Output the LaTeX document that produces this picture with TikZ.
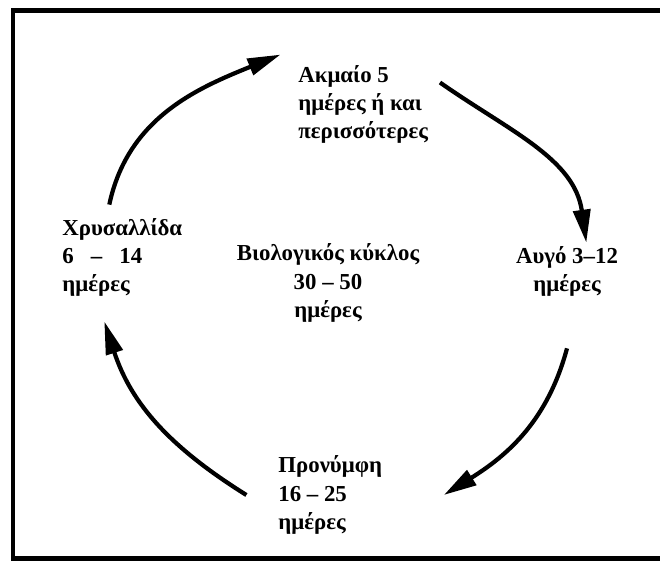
\documentclass[tikz,border=0pt]{standalone}
\usepackage{fontspec}
\setmainfont{Liberation Serif}
\usetikzlibrary{arrows.meta, positioning}
\tikzset{
  every picture/.style={x=0.02cm, y=0.02cm},
  stage/.style={font=\bfseries\fontsize{13}{16}\selectfont, align=left, inner sep=2pt},
  cyclearrow/.style={-{Triangle[length=0.66cm, width=0.34cm]}, line width=2.4pt},
  frame/.style={line width=0.1cm},
}

\begin{document}
\begin{tikzpicture}
  \clip (0,0) rectangle (660,-562);
  % frame, open on the right
  \draw[frame] (13,-10.5) rectangle (700,-558.5);
  % stages of the cycle
  \node[stage, anchor=west] (adult) at (294.5,-104.5) {Ακμαίο 5\\ημέρες ή και\\περισσότερες};
  \node[stage, anchor=west] (pupa) at (58.5,-257.5) {Χρυσαλλίδα\\6\hspace{0.75em}–\hspace{0.75em}14\\ημέρες};
  \node[stage, align=center] (cycle) at (328,-283) {Βιολογικός κύκλος\\30 – 50\\ημέρες};
  \node[stage, align=center] (egg) at (567,-271.5) {Αυγό 3–12\\ημέρες};
  \node[stage, anchor=west] (larva) at (274.5,-495) {Προνύμφη\\16 – 25\\ημέρες};
  % arrows round the cycle
  \draw[cyclearrow] ([shift={(-13,10)}]pupa.north) to[out=78, in=202] ([shift={(-14,7)}]adult.north west);
  \draw[cyclearrow] ([shift={(8,22)}]adult.east) to[out=-35, in=98] ([xshift=11]egg.north);
  \draw[cyclearrow] ([shift={(0,-48)}]egg.south) to[out=-105, in=32] ([xshift=33]larva.east);
  \draw[cyclearrow] ([xshift=-16]larva.west) to[out=148, in=-72] ([shift={(-18,-21)}]pupa.south);
\end{tikzpicture}
\end{document}
